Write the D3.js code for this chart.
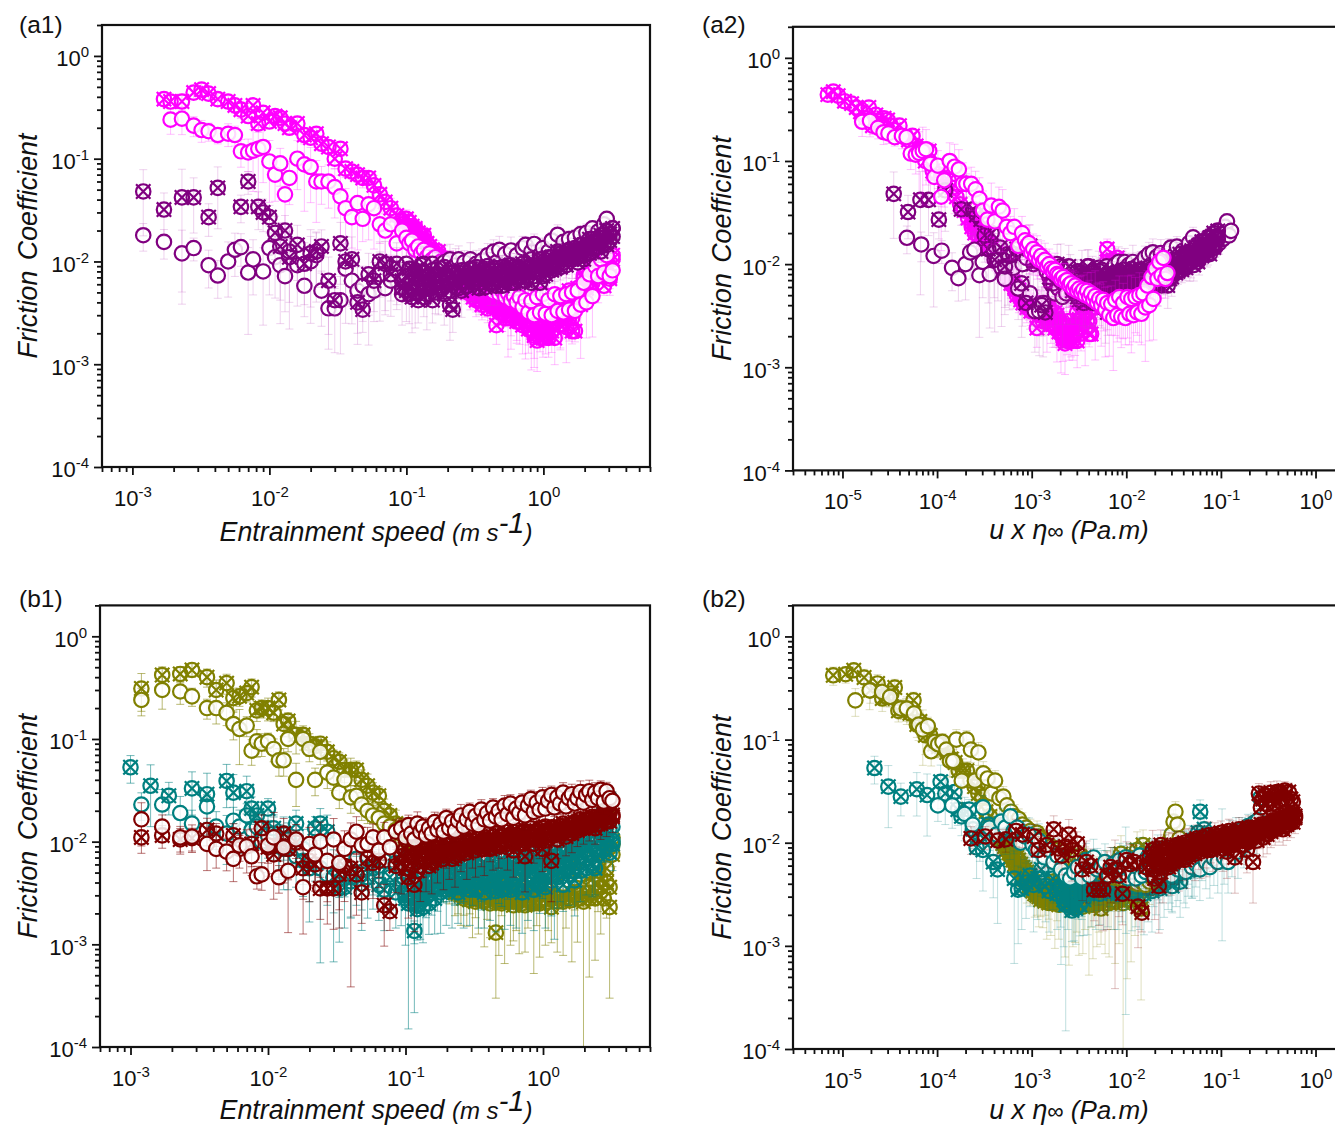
<!DOCTYPE html>
<html>
<head>
<meta charset="utf-8">
<script src="https://cdnjs.cloudflare.com/ajax/libs/d3/7.8.5/d3.min.js"></script>
<style>
body { margin:0; background:#fff; }
svg { display:block; }
text { font-family:"Liberation Sans", Arial, sans-serif; fill:#111; }
</style>
</head>
<body>
<div id="chart-area"></div>
<script>
// entrainment speeds of the sweep (m/s), one friction value per speed (null = no point)
const speed = [
  .001,.0012,.0014,.0017,.0019,.0023,.0028,.0032,.0036,.0042,
  .005,.0056,.0062,.007,.0076,.0083,.009,.01,.011,.012,
  .013,.014,.016,.018,.02,.022,.024,.027,.03,.033,
  .036,.04,.044,.048,.053,.058,.064,.07,.077,.085,
  .093,.1,.105,.11,.116,.122,.128,.134,.141,.148,
  .155,.163,.171,.18,.189,.198,.208,.218,.229,.241,
  .253,.265,.279,.293,.307,.323,.339,.356,.374,.392,
  .412,.433,.454,.477,.5,.526,.552,.58,.609,.639,
  .671,.705,.74,.777,.816,.857,.9,.945,.992,1.04,
  1.09,1.15,1.21,1.27,1.33,1.4,1.47,1.54,1.62,1.7,
  1.78,1.87,1.97,2.06,2.17,2.28,2.39,2.51,2.63,2.77,
  2.9,3.05,3.2];

// friction coefficients
const magentaCross = [
  null,null,null,.38,.36,.36,.44,.47,.43,.38,
  .36,.33,.3,.26,.33,.22,.28,.23,.26,.25,
  .22,.2,.22,.17,.16,.175,.14,.13,.1,.125,
  .08,.075,.07,.065,.065,.055,.045,.038,.033,.028,
  .025,.026,.024,.022,.021,.019,.018,.016,.015,.014,
  .013,.012,.0115,.0105,.01,.0095,.009,.0085,.0075,.0072,
  .0065,.006,.0058,.0052,.0049,.0046,.0043,.0045,.0041,.0039,
  .0037,.004,.0024,.0034,.0038,.0033,.0042,.0028,.0036,.0031,
  .0026,.0034,.0025,.0028,.0022,.0019,.0017,.0024,.0018,.0021,
  .0018,.0026,.0018,.0029,.0024,.0033,.0023,.0028,.0021,.0038,
  .0055,.0048,.0068,.0058,.0075,.0062,.0085,.014,.01,.0078,
  .011,.0068,.0105];
const magentaCross2 = [
  .023,.02,.022,.019,.02,.017,.016,.018,.015,.013,
  .012,.011,.0125,.01,.0095,.0105,.008,.0088,.008,.0065,
  .0068,.0058,.005,.0056,.0045,.0042,.0048,.0038,.0042,.0035,
  .0042,.0036,.0038,.0032,.0034,.0028,.0036,.003,.0038,.0026,
  .003,.0024,.0032,.0022,.0027,.002,.0024,.0018,.0028,.0019,
  .0024,.0021,.0034,.0026,.0042,.003,.0036,.0052,.0028,.0021,
  .0048,.0038,.0072,.0055,.0065,.0088,.0072,.0105,.0082,.0058,
  .0098,.0072,.0115];
const magentaOpen = [
  null,null,null,null,.24,.245,.21,.19,.185,.17,
  .175,.17,.118,.115,.12,.125,.13,.094,.07,.09,
  .045,.065,.1,.088,.083,.06,.06,.06,.053,.043,
  .033,.027,.037,.026,.036,.033,.023,.02,.023,.015,
  .02,.017,.015,.016,.013,.014,.012,.013,.011,.012,
  .0105,.011,.0095,.01,.009,.0085,.0088,.008,.0078,.0072,
  .0075,.0068,.007,.0063,.0065,.0058,.0062,.0055,.0058,.0053,
  .0056,.005,.0055,.0048,.0052,.0045,.0049,.0042,.0046,.004,
  .0045,.0036,.0042,.0032,.0041,.003,.0045,.0032,.0048,.0031,
  .0042,.003,.0048,.0033,.0046,.0032,.0048,.0034,.005,.0033,
  .0052,.0038,.0062,.004,.0075,.0046,.009,.0072,.0105,.0078,
  .0115,.0072,.0082];
const purpleCross = [
  null,.048,null,.032,null,.042,.042,null,.027,.052,
  null,null,.034,.06,null,.034,.03,.027,.019,.014,
  .02,.011,.0145,.0095,.012,.0125,.014,.0065,.0042,.015,
  .01,.0105,.004,.0034,.0075,.0065,.01,.0095,.0075,.0095,
  .0065,.0052,.0085,.0045,.0075,.0042,.0068,.0095,.0048,.0062,
  .0042,.0075,.0055,.0085,.0048,.0068,.0038,.0034,.0062,.0078,
  .0052,.0072,.0058,.0085,.0062,.0078,.0055,.0072,.0068,.009,
  .0062,.0082,.0058,.0075,.0088,.0065,.0078,.0092,.0062,.0085,
  .0072,.0095,.0065,.0088,.0105,.0072,.0092,.0062,.0098,.0075,
  .011,.0082,.0098,.0125,.0088,.0112,.0092,.013,.0105,.0125,
  .0098,.0145,.0115,.0135,.0165,.0125,.0155,.014,.018,.015,
  .02,.016,.021];
const purpleCross2 = [
  .0055,.0072,.0048,.0062,.0082,.0055,.0078,.0045,.007,.0058,
  .0082,.005,.0072,.0058,.0088,.0062,.0052,.0078,.0068,.0055,
  .0082,.0065,.0058,.0075,.0068,.0088,.0062,.0082,.0056,.0078,
  .0072,.0062,.0086,.0068,.0058,.0082,.0072,.0062,.0088,.007,
  .0082,.0065,.0085,.0078,.0062,.0092,.008,.0105,.0072,.0088,
  .0095,.011,.0085,.0102,.0118,.0098,.0125,.0105,.0115,.0135,
  .011,.013,.0105,.0145,.012,.0165,.0135,.0155,.0125,.017,
  .0145,.0185,.0175];
const purpleOpen = [
  null,.018,null,.0155,null,.012,.0135,null,.0092,.0073,
  .01,.013,.0138,.0078,.0105,null,.008,.0135,.011,.0092,
  .0072,.0125,.0092,.0058,.01,.0115,.0052,.0035,.0035,.0042,
  .0085,.0065,.0052,.0058,.0048,.0052,.0075,.0055,.0065,.0085,
  .0048,.0095,.0062,.0085,.005,.0075,.0092,.0058,.0082,.0066,
  .0095,.0062,.0088,.0072,.0098,.0065,.0105,.0078,.0092,.0105,
  .0072,.0098,.0085,.0105,.0078,.0095,.0075,.0102,.0088,.0115,
  .0085,.0125,.0098,.013,.0078,.0118,.0092,.0128,.0075,.0115,
  .0088,.0135,.0145,.0098,.0125,.0148,.0085,.0115,.0135,.0095,
  .0125,.016,.0105,.0182,.0125,.0155,.0112,.0165,.0135,.017,
  .0125,.0185,.015,.019,.0145,.021,.016,.0195,.0175,.023,
  .026,.019,.021];
const oliveCross = [
  null,.31,null,.42,null,.43,.47,null,.4,.3,
  .35,.25,.26,.28,.32,.19,.2,.2,.18,.24,
  .14,.15,.11,.11,.09,.085,.09,.075,.065,.06,
  .05,.05,.05,.04,.035,.03,.028,.02,.018,.015,
  .013,.012,.011,.0105,.0098,.009,.0085,.008,.0075,.0072,
  .0068,.0062,.0058,.0055,.0052,.0048,.0045,.0042,.0038,.0036,
  .0034,.0032,.003,.0036,.0029,.0033,.0028,.0042,.0027,.0035,
  .0029,.0048,.0013,.0026,.0038,.0026,.0052,.0028,.0024,.0034,
  .0027,.0045,.0024,.0032,.0055,.0026,.0038,.0025,.0048,.0028,
  .0034,.0023,.0046,.0028,.0056,.0026,.0036,.0062,.0027,.0048,
  .003,.0078,.0026,.0052,.0032,.0068,.0028,.0052,.0036,.0085,
  .004,.0023,.0095];
const oliveCross2 = [
  .012,.011,.0098,.0092,.0085,.008,.0072,.0068,.0062,.006,
  .0058,.0052,.0048,.0044,.0041,.0038,.0036,.0034,.0032,.0031,
  .003,.0028,.0032,.0027,.003,.0026,.0034,.0029,.0026,.0038,
  .0025,.0032,.0028,.0036,.0025,.003,.0026,.0035,.0026,.0028,
  .0032,.0025,.0036,.0027,.0031,.0025,.0033,.0042,.0027,.0032,
  .0026,.0052,.003,.0026,.0038,.003,.0058,.0028,.0042,.0033,
  .0065,.0028,.0048,.0038,.0028,.0072,.0032,.0062,.0042,.0028,
  .0055,.0036,.0075];
const oliveOpen = [
  null,.24,null,.3,null,.29,.26,null,.2,.2,
  .18,.14,.125,.135,.077,.095,.09,.095,.08,.062,
  .062,.1,.04,.1,.08,.04,.075,.047,.042,.03,
  .04,.027,.028,.023,.02,.018,.017,.015,.014,.013,
  .012,.0125,.0115,.011,.0105,.0098,.0095,.0088,.0092,.0085,
  .0082,.0085,.008,.0078,.0082,.0075,.0072,.0078,.007,.0074,
  .0068,.0072,.0065,.0075,.0062,.007,.0058,.0066,.0062,.0056,
  .006,.0054,.0062,.0052,.0058,.005,.0056,.0048,.0054,.0046,
  .0052,.0045,.005,.0044,.0048,.0043,.0048,.0042,.0046,.0041,
  .0045,.004,.0044,.0042,.0046,.0039,.0048,.0042,.005,.0044,
  .0055,.0048,.0062,.0052,.0075,.0062,.0085,.0105,.012,.016,
  .02,.015,.011];
const tealCross = [
  .053,null,.035,null,.028,null,.033,null,.029,null,
  .039,.03,null,.031,.021,.018,null,.021,.0135,.009,
  .012,.0085,.015,.0065,.0055,.0135,.015,.0125,.0045,.0035,
  .0036,.0041,.0048,.0039,.0045,.0055,.0038,.0034,.0045,.0032,
  .0038,.0028,.0025,.0032,.00135,.0022,.0028,.0023,.0033,.0025,
  .0035,.0028,.0042,.0032,.0046,.0034,.0052,.0036,.0045,.0032,
  .005,.0036,.0058,.0034,.0048,.0062,.0036,.0052,.0032,.0056,
  .0038,.0065,.0033,.005,.0068,.0035,.0055,.0034,.0062,.0036,
  .0055,.0032,.0068,.0038,.0058,.0034,.0072,.004,.0062,.0036,
  .007,.0042,.0078,.0045,.0065,.0038,.0085,.0048,.0072,.0042,
  .0088,.0052,.0098,.0055,.0105,.0058,.0055,.0085,.0125,.02,
  .0105,.0135,.0095];
const tealCross2 = [
  .0038,.003,.0045,.0026,.0034,.0024,.0042,.003,.0036,.0048,
  .0032,.0042,.0055,.0036,.0048,.0038,.0062,.0042,.0056,.0036,
  .0044,.0058,.0038,.0052,.0042,.0034,.0056,.0044,.0062,.004,
  .0048,.0036,.0056,.0042,.0034,.0052,.0044,.0062,.0038,.005,
  .0042,.0058,.0036,.0048,.0066,.0042,.0054,.0038,.0068,.0046,
  .0056,.0072,.0048,.0062,.0052,.0078,.0056,.0068,.0052,.0082,
  .0062,.0078,.0092,.0068,.0085,.0062,.0095,.0075,.0108,.0082,
  .0115,.0078,.0102];
const tealOpen = [
  null,.023,null,.023,null,.019,.015,null,.022,.014,
  .012,.016,.014,.018,.013,.014,.01,.0115,.012,.0095,
  .0085,.0105,.0072,.0085,.0065,.0075,.0055,.0048,.0045,.0052,
  .0058,.0045,.0068,.0048,.0072,.0055,.0058,.0065,.0048,.0062,
  .0055,.0068,.0048,.0058,.0072,.0045,.0062,.0052,.0068,.0045,
  .0058,.0075,.0048,.0065,.0052,.0072,.0055,.0078,.0048,.0068,
  .0085,.0052,.0072,.0058,.0088,.0055,.0078,.0048,.0068,.0092,
  .0055,.0078,.0062,.0095,.0052,.0072,.0088,.0058,.0082,.0062,
  .0092,.0055,.0078,.0102,.0065,.0085,.0058,.0095,.007,.0105,
  .0065,.0092,.0112,.0072,.0098,.0065,.0118,.0085,.0102,.0125,
  .0082,.0112,.0135,.0095,.012,.0145,.0105,.013,.0155,.012,
  .0165,.027,.014];
const redCross = [
  null,.011,null,.0115,null,.0105,.0108,null,.013,.012,
  null,.0115,.0085,null,.0095,null,.0135,.0088,.0075,.0092,
  .012,.0085,.0098,.0055,.0065,.006,.0035,.0035,.0035,.0048,
  .0058,.0055,.0048,.0032,.0068,.0062,.0065,.0024,.0021,.0058,
  .0062,.0085,.0045,.0072,.0038,.0095,.0058,.0082,.0065,.009,
  .0062,.0088,.0072,.0095,.0068,.0092,.0078,.01,.0072,.0098,
  .0085,.0105,.0078,.011,.0092,.0082,.0112,.0095,.0085,.0118,
  .0098,.0088,.012,.0092,.0105,.0125,.0088,.011,.0082,.013,
  .0095,.0125,.0072,.0105,.0135,.0095,.0128,.0105,.0085,.014,
  .0118,.0065,.0135,.0105,.0125,.015,.0112,.0145,.012,.0155,
  .0128,.0165,.0135,.016,.0145,.0175,.0135,.017,.015,.0185,
  .016,.019,.0175];
const redCross2 = [
  .0072,.0055,.0078,.0065,.0088,.0052,.0075,.0068,.0082,.0058,
  .0078,.0065,.0085,.0075,.0088,.0078,.0092,.0068,.0085,.0075,
  .0092,.0082,.0098,.0088,.0102,.0095,.0088,.0102,.0092,.0105,
  .0085,.0112,.0105,.0098,.0115,.0102,.0095,.0118,.0098,.0115,
  .0108,.0095,.0118,.0125,.0112,.0105,.0122,.0115,.0135,.0102,
  .0128,.0138,.0115,.0122,.0142,.0128,.0135,.0122,.0148,.0132,
  .0148,.0138,.0152,.0165,.014,.0155,.0172,.0148,.0165,.0178,
  .0172,.0158,.0182];
const redOpen = [
  null,.0165,null,.014,null,.011,.0112,null,.0095,.0085,
  .008,.0068,.0092,.009,.0072,.0046,.0048,.0092,.011,.0045,
  .0088,.0052,.0105,.0036,.0095,.0075,.01,.0065,.0105,.0062,
  .0085,.0105,.0125,.0092,.0095,.011,.0082,.011,.0088,.0125,
  .0135,.011,.0145,.012,.0105,.015,.0125,.014,.0115,.0135,
  .012,.0155,.013,.0148,.0125,.017,.0135,.0158,.0128,.016,
  .018,.014,.0165,.0195,.015,.0178,.0145,.0205,.0165,.019,
  .016,.0215,.0175,.02,.0165,.0225,.0185,.0235,.017,.021,
  .019,.024,.018,.0225,.026,.0195,.024,.0205,.027,.021,
  .025,.0285,.0215,.027,.0235,.03,.022,.0265,.029,.0235,
  .0265,.0305,.024,.0285,.031,.0255,.03,.0265,.032,.0245,
  .031,.0265,.025];

// error bars, percent of the friction value
const errMagentaCross = [
  0,0,0,15,15,18,14,16,15,14,
  14,16,18,15,14,18,15,14,14,15,
  16,14,18,18,15,14,16,14,20,16,
  18,15,16,20,14,25,18,22,25,20,
  25,22,20,28,18,30,22,25,28,20,
  25,22,30,24,28,20,30,25,22,35,
  28,30,25,35,28,30,25,40,30,35,
  28,40,35,30,45,30,40,50,35,45,
  40,35,55,45,60,40,50,45,35,40,
  35,50,45,30,40,35,55,40,25,30,
  25,30,20,28,22,25,20,25,18,20,
  18,20,15];
const errMagentaOpen = [
  0,0,0,0,28,30,22,24,20,18,
  25,22,30,35,60,70,55,60,45,40,
  70,45,50,65,55,60,40,45,50,60,
  55,50,65,40,55,60,35,45,50,40,
  45,40,35,50,30,40,35,45,30,40,
  35,45,30,40,35,30,45,35,30,40,
  35,30,45,40,30,50,35,40,30,45,
  40,35,50,45,60,40,76,55,45,60,
  50,65,45,60,50,69,55,45,60,50,
  55,45,60,50,70,45,55,40,65,50,
  45,70,40,55,35,60,50,45,35,40,
  30,35,25];
const errPurpleCross = [
  0,63,0,45,0,88,55,0,35,60,
  0,0,30,25,0,40,35,30,45,70,
  40,80,55,60,70,55,45,70,30,60,
  75,65,50,40,60,50,55,65,45,60,
  35,50,30,55,35,40,30,45,55,35,
  40,30,45,35,50,30,55,40,30,35,
  45,35,30,40,35,30,45,35,30,35,
  40,30,35,45,30,35,40,30,35,40,
  30,35,40,30,35,30,25,40,30,35,
  30,25,35,30,25,30,25,30,35,25,
  30,25,20,30,25,20,25,30,20,25,
  20,25,20];
const errPurpleOpen = [
  0,30,0,32,0,68,25,0,40,40,
  55,45,35,75,55,0,70,65,60,73,
  55,68,60,50,75,65,55,60,63,70,
  55,62,70,55,68,50,65,45,55,60,
  50,45,60,40,55,35,45,50,40,45,
  35,50,40,30,45,35,40,30,45,35,
  40,30,35,45,30,35,40,30,35,30,
  35,30,25,35,30,25,30,35,25,30,
  25,30,20,25,30,25,20,30,25,20,
  25,20,30,25,20,25,30,20,25,20,
  25,20,18,22,20,18,22,20,18,20,
  18,15,18];
const errOliveCross = [
  0,40,0,20,0,18,15,0,20,25,
  22,25,20,18,20,22,20,25,18,20,
  25,20,35,22,25,20,18,25,20,22,
  25,30,22,25,30,25,22,30,25,35,
  30,35,25,40,30,35,40,30,45,35,
  40,30,45,35,50,40,45,35,50,45,
  55,40,50,45,60,45,55,40,65,50,
  60,45,77,70,50,75,45,65,55,60,
  70,50,65,55,45,80,60,70,50,65,
  60,55,55,70,50,70,60,45,75,55,
  65,50,99,55,85,45,75,60,65,50,
  55,87,40];
const errOliveOpen = [
  0,30,0,35,0,25,20,0,22,30,
  25,30,55,22,28,30,25,20,25,30,
  30,25,45,22,25,30,25,30,25,30,
  25,30,25,30,25,30,25,30,25,30,
  25,30,25,30,25,20,25,30,25,20,
  25,20,25,30,20,25,30,20,25,30,
  20,25,30,25,20,30,25,20,30,25,
  20,30,25,35,20,25,30,35,25,20,
  30,25,35,20,30,25,35,30,20,25,
  30,35,25,20,35,25,30,40,25,30,
  35,25,30,25,35,30,25,30,25,30,
  25,20,30];
const errTealCross = [
  30,0,60,0,35,0,45,0,60,0,
  45,50,0,40,30,35,0,25,35,50,
  45,60,35,55,70,30,40,45,85,70,
  60,55,50,65,60,45,55,60,50,55,
  60,65,94,55,25,50,60,55,45,50,
  45,55,50,60,45,55,50,60,45,50,
  50,60,45,55,50,45,60,50,55,45,
  55,45,60,50,45,60,50,55,45,60,
  50,60,45,55,50,60,45,50,55,60,
  45,55,40,50,60,45,40,50,45,55,
  40,50,35,45,40,50,45,35,40,30,
  40,35,45];
const errTealOpen = [
  0,30,0,40,0,45,35,0,30,40,
  50,35,45,30,40,35,50,40,45,55,
  60,45,50,55,60,45,88,50,55,45,
  50,60,45,55,50,60,45,50,55,45,
  50,45,55,40,97,50,45,55,45,40,
  45,50,40,45,50,40,45,40,50,45,
  40,50,45,40,50,45,40,55,45,40,
  50,45,40,35,55,45,40,50,45,40,
  40,50,45,35,45,40,50,35,45,35,
  50,40,90,45,35,50,40,45,35,40,
  45,35,30,40,35,30,35,30,25,35,
  30,25,30];
const errRedCross = [
  0,30,0,25,0,28,25,0,30,25,
  0,30,35,0,40,0,35,30,35,30,
  40,50,30,50,60,45,50,55,60,70,
  55,93,60,50,50,55,45,60,35,45,
  50,55,60,45,65,40,55,45,50,40,
  50,40,45,35,50,40,45,35,50,40,
  40,35,45,35,40,45,30,40,45,35,
  35,40,30,40,35,30,40,35,45,30,
  35,30,55,40,30,35,30,35,40,30,
  35,60,30,35,30,25,35,30,35,25,
  30,25,30,25,30,25,30,25,30,25,
  30,25,30];
const errRedOpen = [
  0,45,0,30,0,28,30,0,45,35,
  35,40,30,45,35,25,30,50,75,30,
  55,75,40,65,45,50,55,60,60,65,
  50,45,40,50,45,35,45,40,35,30,
  25,30,25,30,25,30,25,22,30,25,
  30,25,22,28,25,22,30,25,22,25,
  28,22,25,22,28,25,22,25,28,22,
  25,22,28,25,22,25,28,22,25,28,
  25,22,28,25,22,25,28,22,25,22,
  25,22,28,25,22,25,28,22,25,22,
  25,28,22,25,28,22,25,28,22,25,
  22,25,22];

// series: colour, crossed marker or not, viscosity (x of right panels = speed * viscosity)
// mu2 = second sweep, starts at speed[40]; hideRight = points left out of the right panels
const sMagentaCross = { color:"#ff00ff", crossed:true,  eta:.0025, mu:magentaCross, mu2:magentaCross2, err:errMagentaCross, fromRight:6 };
const sMagentaOpen  = { color:"#ff00ff", crossed:false, eta:.0085, mu:magentaOpen,  err:errMagentaOpen };
const sPurpleCross  = { color:"#800080", crossed:true,  eta:.029,  mu:purpleCross,  mu2:purpleCross2, err:errPurpleCross };
const sPurpleOpen   = { color:"#800080", crossed:false, eta:.04,   mu:purpleOpen,   err:errPurpleOpen };
const sOliveCross   = { color:"#808000", crossed:true,  eta:.0047, mu:oliveCross,   mu2:oliveCross2, err:errOliveCross, fromRight:3, hideRight:[72] };
const sOliveOpen    = { color:"#808000", crossed:false, eta:.0114, mu:oliveOpen,    err:errOliveOpen };
const sTealCross    = { color:"#008080", crossed:true,  eta:.0218, mu:tealCross,    mu2:tealCross2, err:errTealCross, hideRight:[44] };
const sTealOpen     = { color:"#008080", crossed:false, eta:.085,  mu:tealOpen,     err:errTealOpen };
const sRedCross     = { color:"#800000", crossed:true,  eta:.19,   mu:redCross,     mu2:redCross2, err:errRedCross };
const sRedOpen      = { color:"#800000", crossed:false, eta:.18,   mu:redOpen,      err:errRedOpen, fromRight:95, crossedRight:true };

const panels = [
  { id:"a1", tx:19,  ty:33,  left:102, right:650,  top:25,    bottom:467,  right2:false, errAlpha:.25,
    series:[sMagentaCross, sMagentaOpen, sPurpleOpen, sPurpleCross] },
  { id:"a2", tx:702, ty:33,  left:793, right:1344, top:26.8,  bottom:470.4, right2:true, errAlpha:.25,
    series:[sMagentaCross, sPurpleOpen, sPurpleCross, sMagentaOpen] },
  { id:"b1", tx:19,  ty:607, left:100, right:650,  top:605.4, bottom:1047, right2:false, errAlpha:.55,
    series:[sOliveCross, sOliveOpen, sTealOpen, sTealCross, sRedCross, sRedOpen] },
  { id:"b2", tx:702, ty:607, left:793, right:1344, top:605.4, bottom:1049, right2:true, errAlpha:.25,
    series:[sOliveCross, sTealCross, sOliveOpen, sTealOpen, sRedOpen, sRedCross] }
];

const svgWidth = 1335, svgHeight = 1126;
const R = 7.2;

var svg = d3.select("#chart-area").append("svg")
    .attr("width", svgWidth)
    .attr("height", svgHeight);

// minor tick positions: 2..9 of every decade inside the domain
function minorTicks(domain){
    var out = [];
    for (var e = Math.floor(Math.log10(domain[0])); e < Math.ceil(Math.log10(domain[1])); e++){
        d3.range(2, 10).forEach(function(m){
            var v = m * Math.pow(10, e);
            if (v >= domain[0] && v <= domain[1]) out.push(v);
        });
    }
    return out;
}

// replace a tick label with 10 + superscript
function powerLabels(sel){
    sel.selectAll(".tick text").each(function(d){
        var t = d3.select(this).text("").attr("fill", "#111").attr("font-size", 22);
        t.append("tspan").text("10");
        t.append("tspan")
            .attr("font-size", 15)
            .attr("dy", "-9")
            .text(Math.round(Math.log10(d)));
    });
}

panels.forEach(function(p){
    var g = svg.append("g").attr("class", "panel-" + p.id);

    var xDomain = p.right2 ? [3e-6, 2] : [6e-4, 6];
    var xMajors = p.right2 ? [1e-5, 1e-4, 1e-3, 1e-2, 1e-1, 1] : [1e-3, 1e-2, 1e-1, 1];
    var yDomain = [1e-4, 2];
    var yMajors = [1e-4, 1e-3, 1e-2, 1e-1, 1];

    var x = d3.scaleLog().domain(xDomain).range([p.left, p.right]);
    var y = d3.scaleLog().domain(yDomain).range([p.bottom, p.top]);

    // clip for the error bars
    g.append("clipPath").attr("id", "clip-" + p.id).append("rect")
        .attr("x", p.left).attr("y", p.top)
        .attr("width", p.right - p.left).attr("height", p.bottom - p.top);

    // data
    p.series.forEach(function(s){
        var points = [], second = [];
        var uOf = function(i){ return p.right2 ? speed[i] * s.eta : speed[i]; };
        s.mu.forEach(function(m, i){
            if (m === null) return;
            if (p.right2 && s.fromRight && i < s.fromRight) return;
            if (p.right2 && s.hideRight && s.hideRight.indexOf(i) >= 0) return;
            points.push({ u: uOf(i), mu: m, e: s.err[i] / 100 });
        });
        if (s.mu2) s.mu2.forEach(function(m, i){
            second.push({ u: uOf(i + 40), mu: m });
        });

        var bars = g.append("g")
            .attr("clip-path", "url(#clip-" + p.id + ")")
            .attr("stroke", s.color === "#800080" ? "#c050c0" : s.color)
            .attr("stroke-opacity", p.errAlpha)
            .attr("stroke-width", 1)
            .attr("fill", "none");
        bars.selectAll("path").data(points).enter().append("path")
            .attr("d", function(d){
                var px = x(d.u), hi = y(d.mu * (1 + d.e)), lo = y(d.mu * (1 - d.e));
                return "M" + px + "," + hi + "V" + lo
                    + "M" + (px - 4) + "," + hi + "h8"
                    + "M" + (px - 4) + "," + lo + "h8";
            });

        var marks = g.append("g")
            .attr("stroke", s.color)
            .attr("stroke-width", 2.2);
        var crossed = s.crossed || (p.right2 && s.crossedRight);
        if (crossed){
            var all = second.concat(points);
            marks.selectAll("circle").data(all).enter().append("circle")
                .attr("fill", "none")
                .attr("cx", function(d){ return x(d.u); })
                .attr("cy", function(d){ return y(d.mu); })
                .attr("r", R);
            marks.selectAll("path").data(all).enter().append("path")
                .attr("fill", "none")
                .attr("d", function(d){
                    var px = x(d.u), py = y(d.mu);
                    return "M" + (px - R) + "," + (py - R) + "L" + (px + R) + "," + (py + R)
                        + "M" + (px - R) + "," + (py + R) + "L" + (px + R) + "," + (py - R);
                });
        } else {
            marks.selectAll("circle").data(points).enter().append("circle")
                .attr("cx", function(d){ return x(d.u); })
                .attr("cy", function(d){ return y(d.mu); })
                .attr("r", R)
                .attr("fill", "#fff")
                .attr("fill-opacity", .85);
        }
    });

    // axes
    var xAxisG = g.append("g").attr("transform", "translate(0," + p.bottom + ")")
        .call(d3.axisBottom(x).tickValues(xMajors).tickSize(8).tickPadding(9).tickFormat(function(){ return ""; }));
    var xMinor = g.append("g").attr("transform", "translate(0," + p.bottom + ")")
        .call(d3.axisBottom(x).tickValues(minorTicks(xDomain)).tickSize(5).tickFormat(function(){ return ""; }));
    var yAxisG = g.append("g").attr("transform", "translate(" + p.left + ",0)")
        .call(d3.axisLeft(y).tickValues(yMajors).tickSize(8).tickPadding(5).tickFormat(function(){ return ""; }));
    var yMinor = g.append("g").attr("transform", "translate(" + p.left + ",0)")
        .call(d3.axisLeft(y).tickValues(minorTicks(yDomain)).tickSize(5).tickFormat(function(){ return ""; }));
    [xAxisG, xMinor, yAxisG, yMinor].forEach(function(a){
        a.select(".domain").remove();
        a.selectAll(".tick line").attr("stroke", "#111").attr("stroke-width", 1.8);
    });
    powerLabels(xAxisG);
    powerLabels(yAxisG);
    xAxisG.selectAll(".tick text").attr("dy", "1em");
    yAxisG.selectAll(".tick text").attr("dy", ".45em");

    // frame
    g.append("rect")
        .attr("x", p.left).attr("y", p.top)
        .attr("width", p.right - p.left).attr("height", p.bottom - p.top)
        .attr("fill", "none").attr("stroke", "#111").attr("stroke-width", 2.2);

    // panel tag
    g.append("text").attr("x", p.tx).attr("y", p.ty)
        .attr("font-size", 24.5).text("(" + p.id + ")");

    // y label
    g.append("text")
        .attr("transform", "translate(" + (p.right2 ? 731 : 37) + "," + ((p.top + p.bottom) / 2) + ") rotate(-90)")
        .attr("text-anchor", "middle")
        .attr("font-size", 26.8)
        .attr("font-style", "italic")
        .attr("word-spacing", 3)
        .text("Friction Coefficient");

    // x label
    var xl = g.append("text")
        .attr("text-anchor", "middle")
        .attr("font-style", "italic")
        .attr("font-size", 26.8);
    if (p.right2){
        xl.attr("x", 1069).attr("y", p.id === "a2" ? 539 : 1119);
        xl.append("tspan").text("u x \u03b7");
        xl.append("tspan").attr("font-size", 23).attr("font-style", "normal").text("\u221e");
        xl.append("tspan").attr("font-size", 26).attr("dx", 7).text("(Pa.m)");
    } else {
        xl.attr("x", 376).attr("y", p.id === "a1" ? 541 : 1119);
        xl.append("tspan").text("Entrainment speed ");
        xl.append("tspan").attr("font-size", 24).text("(m s");
        xl.append("tspan").attr("font-size", 29).attr("dy", -8).text("-1");
        xl.append("tspan").attr("font-size", 24).attr("dy", 8).text(")");
    }
});
</script>
</body>
</html>
